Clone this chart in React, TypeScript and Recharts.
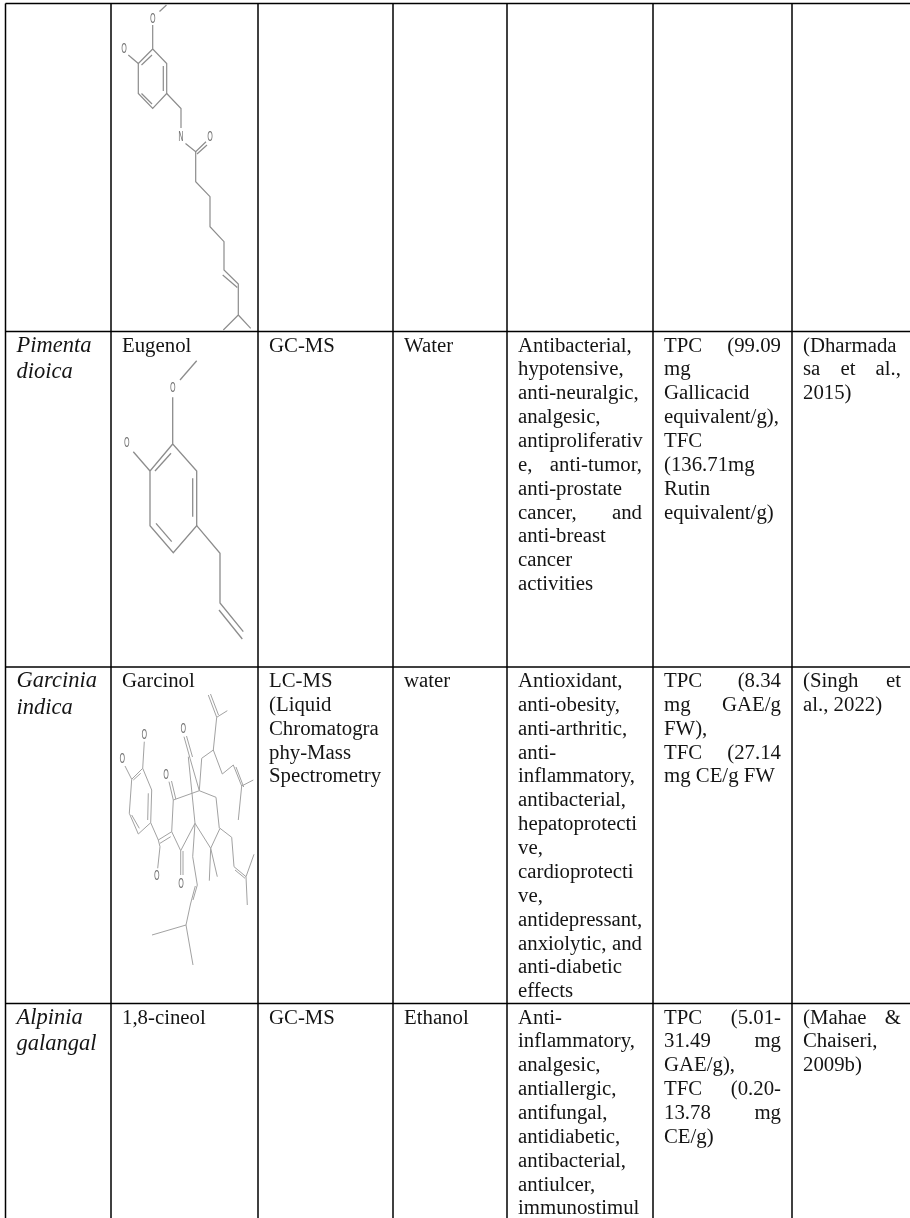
import { ReferenceLine, Scatter, ScatterChart, XAxis, YAxis } from "recharts";

type Pt = [number, number];

// table rules
const columnRules = [5.5, 111, 258, 393, 507, 653, 792];
const rowRules = [3.5, 331.5, 667, 1003.5];
const tableRight = 912;
const pageBottom = 1218;

const plantNames = [
  ["Pimenta", "dioica"],
  ["Garcinia", "indica"],
  ["Alpinia", "galangal"],
];
const compounds = [["Eugenol"], ["Garcinol"], ["1,8-cineol"]];
const methods = [
  ["GC-MS"],
  ["LC-MS", "(Liquid", "Chromatogra", "phy-Mass", "Spectrometry"],
  ["GC-MS"],
];
const solvents = [["Water"], ["water"], ["Ethanol"]];
const activities = [
  [
    "Antibacterial,",
    "hypotensive,",
    "anti-neuralgic,",
    "analgesic,",
    "antiproliferativ",
    "e, anti-tumor,",
    "anti-prostate",
    "cancer, and",
    "anti-breast",
    "cancer",
    "activities",
  ],
  [
    "Antioxidant,",
    "anti-obesity,",
    "anti-arthritic,",
    "anti-",
    "inflammatory,",
    "antibacterial,",
    "hepatoprotecti",
    "ve,",
    "cardioprotecti",
    "ve,",
    "antidepressant,",
    "anxiolytic, and",
    "anti-diabetic",
    "effects",
  ],
  [
    "Anti-",
    "inflammatory,",
    "analgesic,",
    "antiallergic,",
    "antifungal,",
    "antidiabetic,",
    "antibacterial,",
    "antiulcer,",
    "immunostimul",
  ],
];
const phenolics = [
  ["TPC (99.09", "mg", "Gallicacid", "equivalent/g),", "TFC", "(136.71mg", "Rutin", "equivalent/g)"],
  ["TPC (8.34", "mg GAE/g", "FW),", "TFC (27.14", "mg CE/g FW"],
  ["TPC (5.01-", "31.49 mg", "GAE/g),", "TFC (0.20-", "13.78 mg", "CE/g)"],
];
const references = [
  ["(Dharmada", "sa et al.,", "2015)"],
  ["(Singh et", "al., 2022)"],
  ["(Mahae &", "Chaiseri,", "2009b)"],
];
const justifiedLines = [
  "e, anti-tumor,",
  "cancer, and",
  "anxiolytic, and",
  "TPC (99.09",
  "TPC (8.34",
  "mg GAE/g",
  "TFC (27.14",
  "TPC (5.01-",
  "31.49 mg",
  "TFC (0.20-",
  "13.78 mg",
  "sa et al.,",
  "(Singh et",
  "(Mahae &",
];

// structures are read as bond polylines
const capsaicinBonds: Pt[][] = [
  [[159.5, 11.5], [166.5, 5]],
  [[152.7, 25], [152.7, 49], [166.7, 63.5], [166.7, 93.5], [152.7, 108.5], [138.3, 93.5], [138.3, 63.5], [152.7, 49]],
  [[128.3, 55], [138.3, 63.5]],
  [[152, 55], [141.5, 65]],
  [[163.3, 66], [163.3, 91]],
  [[141.5, 93.5], [152, 104]],
  [[166.7, 93.5], [181, 108.5], [181, 128]],
  [[185.5, 143.5], [195.7, 151.7], [206, 141.7]],
  [[197, 154], [207, 145]],
  [[195.7, 151.7], [195.7, 181.7], [210, 196.7], [210, 226.7], [224, 241.7], [224, 270], [238.3, 284], [238.3, 315], [223.3, 330]],
  [[222.7, 275], [237.3, 287.5]],
  [[238.3, 315], [250.7, 328.3]],
];
const eugenolBonds: Pt[][] = [
  [[180, 380], [196.7, 360.7]],
  [[172.7, 397.3], [172.7, 444], [196.7, 471], [196.7, 525.7], [173.3, 552.7], [150, 525.7], [150, 471], [172.7, 444]],
  [[133.3, 451.7], [150, 471]],
  [[171, 453.3], [155, 471]],
  [[192.7, 478.3], [192.7, 516.7]],
  [[156, 523.3], [171.7, 541.7]],
  [[196.7, 525.7], [220, 553.3], [220, 603], [243.3, 631.7]],
  [[219, 610], [242.3, 639]],
];
const garcinolBonds: Pt[][] = [
  [[208.3, 695], [216.7, 717.3], [227.3, 710.7]],
  [[210.5, 694], [218.5, 715]],
  [[216.7, 717.3], [213.3, 750], [201.7, 758.3], [199.3, 790.7]],
  [[213.3, 750], [222.3, 774], [233.3, 765], [241.7, 786], [253.3, 780]],
  [[236, 767], [243.7, 787]],
  [[241.7, 786], [238.3, 820]],
  [[184, 736.7], [190, 758.3], [199.3, 790.7]],
  [[186.5, 736], [192.5, 757]],
  [[188.3, 756.7], [195, 823.3]],
  [[169, 781.7], [173.3, 800]],
  [[171.5, 781], [175.8, 799]],
  [[173.3, 800], [199.3, 790.7], [216, 797.3], [219.3, 828.3]],
  [[144.3, 741.7], [142.7, 768.3]],
  [[125, 766], [131.7, 779.3]],
  [[142.7, 768.3], [151.7, 790], [150.7, 822.7], [138.3, 834], [129.3, 813.3], [131.7, 779.3], [142.7, 768.3]],
  [[140.7, 773.3], [133.3, 780]],
  [[148.3, 793.3], [147.7, 820]],
  [[131.7, 815], [139.3, 828.3]],
  [[150.7, 822.7], [158.3, 840], [171.7, 831.7]],
  [[160, 843.3], [170.7, 836.7]],
  [[158.3, 840], [160, 846.7], [157.7, 868.3]],
  [[171.7, 831.7], [173.3, 800]],
  [[171.7, 831.7], [180.7, 850.7], [195, 823.3], [210.7, 848.3], [220, 828.3], [231.7, 837.3], [234, 866.7], [246, 876.7]],
  [[235, 870], [245, 878.3]],
  [[246, 876.7], [254, 854.3]],
  [[246, 876.7], [247.3, 905]],
  [[210.7, 848.3], [209.3, 880.7]],
  [[210.7, 848.3], [217.3, 876.7]],
  [[180.7, 850.7], [180.7, 875]],
  [[183, 851], [183, 875]],
  [[195, 823.3], [192.7, 856.7], [197.3, 885], [193, 900]],
  [[195.3, 886], [190.5, 904], [186, 925]],
  [[186, 925], [152, 935]],
  [[186, 925], [193, 965]],
];

const atomLabels = [
  { x: 152.7, y: 18.5, text: "O" },
  { x: 124, y: 48.5, text: "O" },
  { x: 181, y: 136.5, text: "N" },
  { x: 210, y: 136.5, text: "O" },
  { x: 172.7, y: 387.5, text: "O" },
  { x: 126.7, y: 442.5, text: "O" },
  { x: 144.3, y: 735, text: "O" },
  { x: 122.3, y: 758.3, text: "O" },
  { x: 183.3, y: 728.7, text: "O" },
  { x: 166, y: 774.3, text: "O" },
  { x: 156.7, y: 875.7, text: "O" },
  { x: 181, y: 883.3, text: "O" },
];

const bodyFont = "Liberation Serif";
const bodySize = 20.8;
const plantSize = 22.5;
const bodyLeading = 23.87;
const plantLeading = 26.7;

let measureCtx: CanvasRenderingContext2D | null = null;
function measure(text: string) {
  if (!measureCtx) {
    measureCtx = document.createElement("canvas").getContext("2d");
  }
  measureCtx!.font = `${bodySize}px "${bodyFont}"`;
  return measureCtx!.measureText(text).width;
}

type Cell = { x: number; y: number; text: string; col: number };

const columns = [plantNames, compounds, methods, solvents, activities, phenolics, references];
const cellPadding = 11;

const tableCells: Cell[] = columns.flatMap((column, col) =>
  column.flatMap((lines, row) =>
    lines.map((text, i) => ({
      x: columnRules[col] + cellPadding,
      y: rowRules[row + 1] + 20 + i * (col === 0 ? plantLeading : bodyLeading),
      text,
      col,
    })),
  ),
);

function CellText(props: any) {
  const { cx, cy, payload } = props;
  const italic = payload.col === 0;
  const right = (columnRules[payload.col + 1] ?? tableRight) - cellPadding;
  let wordSpacing = 0;
  if (justifiedLines.includes(payload.text)) {
    const spaces = payload.text.split(" ").length - 1;
    wordSpacing = (right - cx - measure(payload.text)) / spaces;
  }
  return (
    <text
      x={cx}
      y={cy}
      fill="#141414"
      fontFamily={bodyFont}
      fontSize={italic ? plantSize : bodySize}
      fontStyle={italic ? "italic" : "normal"}
      style={{ wordSpacing }}
    >
      {payload.text}
    </text>
  );
}

function AtomText(props: any) {
  const { cx, cy, payload } = props;
  return (
    <text
      transform={`translate(${cx},${cy}) scale(0.55,1.05)`}
      textAnchor="middle"
      dominantBaseline="central"
      fill="#777"
      fontFamily="DejaVu Sans"
      fontSize={13}
    >
      {payload.text}
    </text>
  );
}

const noDot = () => <g />;

const toPoints = (line: Pt[]) => line.map(([x, y]) => ({ x, y }));

const bondSeries = [
  { bonds: capsaicinBonds, color: "#8c8c8c", width: 1.2 },
  { bonds: eugenolBonds, color: "#8c8c8c", width: 1.3 },
  { bonds: garcinolBonds, color: "#a2a2a2", width: 1 },
];

export default function App() {
  return (
    <div
      style={{
        position: "absolute",
        left: 0,
        top: 0,
        width: 910,
        height: pageBottom,
        background: "#fff",
        filter: "blur(0.35px)",
      }}
    >
      <ScatterChart width={910} height={pageBottom} margin={{ top: 0, right: 0, bottom: 0, left: 0 }}>
        <XAxis type="number" dataKey="x" domain={[0, 910]} hide allowDataOverflow />
        <YAxis type="number" dataKey="y" domain={[0, pageBottom]} reversed hide allowDataOverflow />
        {columnRules.map((x) => (
          <ReferenceLine
            key={`c${x}`}
            segment={[{ x, y: rowRules[0] }, { x, y: pageBottom }]}
            stroke="#000"
            strokeWidth={1.5}
          />
        ))}
        {rowRules.map((y) => (
          <ReferenceLine
            key={`r${y}`}
            segment={[{ x: columnRules[0], y }, { x: 910, y }]}
            stroke="#000"
            strokeWidth={1.5}
          />
        ))}
        {bondSeries.flatMap(({ bonds, color, width }, m) =>
          bonds.map((line, i) => (
            <Scatter
              key={`b${m}-${i}`}
              data={toPoints(line)}
              line={{ stroke: color, strokeWidth: width }}
              shape={noDot}
              isAnimationActive={false}
            />
          )),
        )}
        <Scatter data={atomLabels} shape={AtomText} isAnimationActive={false} />
        <Scatter data={tableCells} shape={CellText} isAnimationActive={false} />
      </ScatterChart>
    </div>
  );
}
